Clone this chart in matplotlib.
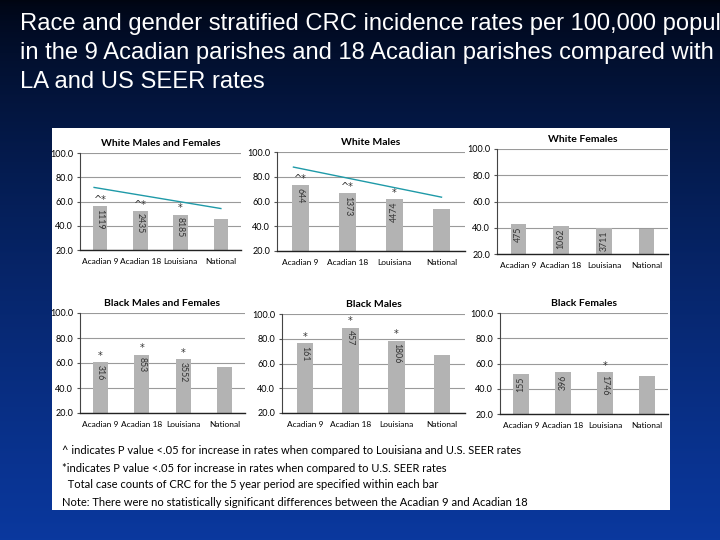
import numpy as np
import matplotlib
matplotlib.use('Agg')
from matplotlib import pyplot as plt
from matplotlib.patches import Rectangle

# %% data (rates per 100,000)
categories = ['Acadian 9', 'Acadian 18', 'Louisiana', 'National']

titles = ['White Males and Females', 'White Males', 'White Females',
          'Black Males and Females', 'Black Males', 'Black Females']

wmf_rates = [55.9, 52.3, 49.2, 45.7]
wm_rates = [73.2, 66.8, 61.9, 53.8]
wf_rates = [42.9, 41.7, 40.1, 39.1]
bmf_rates = [60.5, 66.7, 62.9, 56.5]
bm_rates = [76.2, 88.9, 78.4, 66.5]
bf_rates = [51.5, 53.1, 53.1, 49.9]

# case counts printed inside the bars
wmf_counts = ['1119', '2435', '8185']
wm_counts = ['644', '1373', '4474']
wf_counts = ['475', '1062', '3711']
bmf_counts = ['316', '853', '3552']
bm_counts = ['161', '457', '1806']
bf_counts = ['155', '396', '1746']

# significance markers above the bars
wmf_marks = ['^*', '^*', '*']
wm_marks = ['^*', '^*', '*']
wf_marks = ['', '', '']
bmf_marks = ['*', '*', '*']
bm_marks = ['*', '*', '*']
bf_marks = ['', '', '*']

# trend line ends (Acadian 9 -> National), only on the white panels
wmf_trend = [71.6, 54.2]
wm_trend = [87.8, 63.5]

yticks = [20, 40, 60, 80, 100]

title_lines = ['Race and gender stratified CRC incidence rates per 100,000 population',
               'in the 9 Acadian parishes and 18 Acadian parishes compared with',
               'LA and US SEER rates']

notes = ['^ indicates P value <.05 for increase in rates when compared to Louisiana and U.S. SEER rates',
         '*indicates P value <.05 for increase in rates when compared to U.S. SEER rates',
         '  Total case counts of CRC for the 5 year period are specified within each bar',
         'Note: There were no statistically significant differences between the Acadian 9 and Acadian 18']

rates = [wmf_rates, wm_rates, wf_rates, bmf_rates, bm_rates, bf_rates]
counts = [wmf_counts, wm_counts, wf_counts, bmf_counts, bm_counts, bf_counts]
marks = [wmf_marks, wm_marks, wf_marks, bmf_marks, bm_marks, bf_marks]
trends = [wmf_trend, wm_trend, None, None, None, None]
# some counts read upward, most read downward
count_rot = [[-90, -90, -90], [-90, -90, 90], [90, 90, 90],
             [-90, -90, -90], [-90, -90, -90], [90, 90, -90]]

# %% figure + slide background
W, H = 720, 540
fig = plt.figure(figsize=(7.2, 5.4), dpi=100)

bg = fig.add_axes([0, 0, 1, 1], zorder=-10)
grad = np.linspace(0, 1, 256)[:, None]
top = np.array([0.0, 0.02, 0.07])
bot = np.array([0.04, 0.22, 0.62])
img = top + (bot - top) * (grad[..., None] ** 0.7)
img = np.repeat(img, 2, axis=1)
bg.imshow(img, aspect='auto', extent=[0, 1, 0, 1])
bg.set_axis_off()

# white panel holding the charts
fig.patches.append(Rectangle((52 / W, 1 - 510 / H), 618 / W, 382 / H,
                             transform=fig.transFigure, facecolor='white',
                             edgecolor='none', zorder=-5))

# slide title (runs off the right edge, as on the slide)
for i, (line, yb) in enumerate(zip(title_lines, [30, 58.5, 88])):
    fig.text(20 / W, 1 - yb / H, line, color='white', fontsize=17.1,
             family='Liberation Sans', va='baseline', ha='left')

# %% the six bar charts (pixel boxes: left, right, top, bottom)
boxes = [(80, 241, 153, 250), (277, 465, 152, 251), (497, 668, 149, 254),
         (80, 245, 313, 413), (282, 465, 314, 413), (500, 668, 313, 414)]

x = np.arange(len(categories))
for k, (l, r, t, b) in enumerate(boxes):
    ax = fig.add_axes([l / W, 1 - b / H, (r - l) / W, (b - t) / H])
    ax.bar(x, rates[k], width=0.36, color='#b3b3b3', zorder=2)
    ax.set_xlim(-0.5, 3.5)
    ax.set_ylim(20, 100)
    ax.set_yticks(yticks)
    ax.set_yticklabels(['%.1f' % v for v in yticks], fontsize=6.5, family='Lato')
    ax.set_xticks(x)
    ax.set_xticklabels(categories, fontsize=6.0, family='Lato')
    ax.tick_params(axis='x', length=0, pad=6)
    ax.tick_params(axis='y', length=2, pad=3, color='#555555')
    ax.grid(axis='y', color='#9a9a9a', linewidth=0.8, zorder=0)
    ax.set_axisbelow(True)
    for s in ['top', 'right']:
        ax.spines[s].set_visible(False)
    ax.spines['left'].set_color('#444444')
    ax.spines['bottom'].set_color('#222222')
    ax.spines['bottom'].set_linewidth(1.0)
    ax.set_facecolor('none')
    ax.set_title(titles[k], fontsize=7.5, fontweight='bold', family='Lato', pad=5)

    for j in range(3):
        ax.text(x[j], rates[k][j] - 2, counts[k][j], rotation=count_rot[k][j],
                ha='center', va='top', fontsize=6.3, color='#333333',
                family='Lato', zorder=3)
        if marks[k][j]:
            ax.text(x[j], rates[k][j] + 1, marks[k][j], ha='center',
                    va='bottom', fontsize=7, color='#333333', zorder=3)

    if trends[k] is not None:
        ax.plot([x[0] - 0.15, x[-1]], trends[k], color='#1f9aa8',
                linewidth=1.0, zorder=4)

# %% footnotes
for i, n in enumerate(notes):
    fig.text(62 / W, 1 - (451 + 17 * i) / H, n, fontsize=8.0, family='Lato',
             color='black', va='center', ha='left')

fig.savefig('out.png', dpi=100)
